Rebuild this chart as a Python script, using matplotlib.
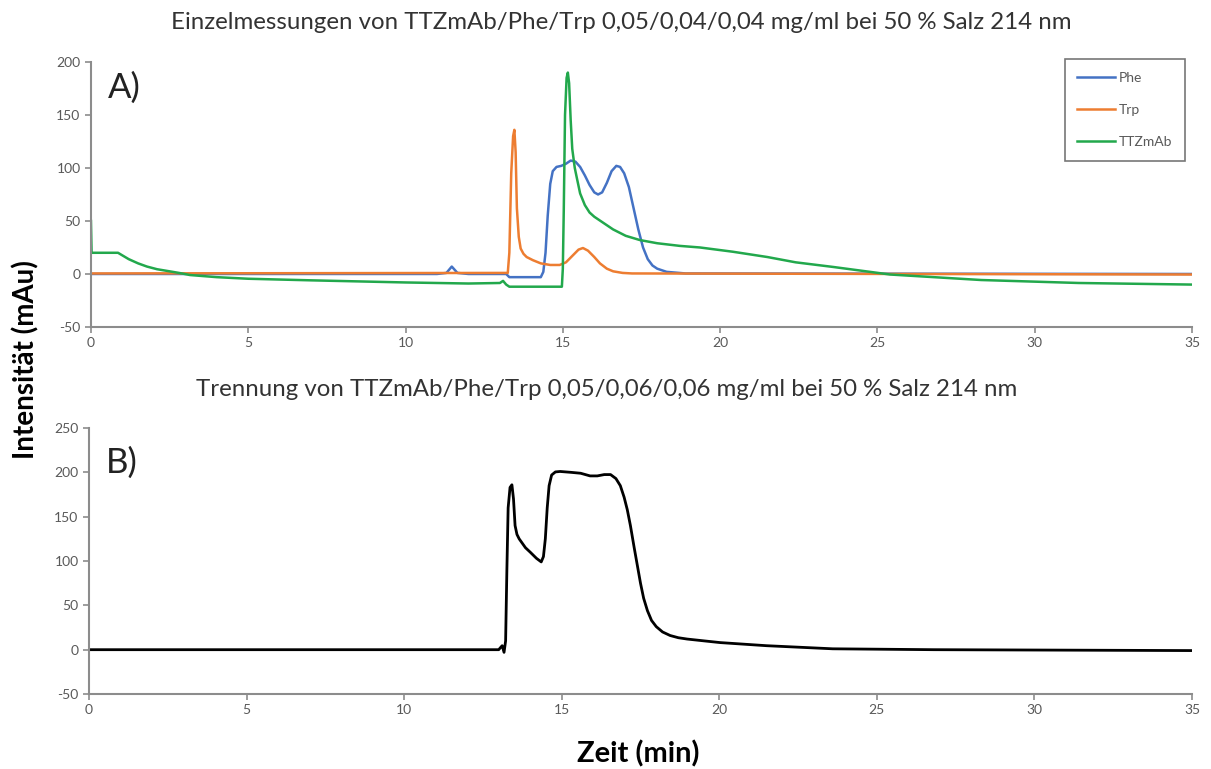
import matplotlib.pyplot as plt

plt.rcParams['font.family'] = ['Lato', 'DejaVu Sans']
plt.rcParams['axes.unicode_minus'] = False

# Einzelmessungen (A)
phe_t = [0, 11.0, 11.3, 11.47, 11.65, 12.0, 13.2, 13.3, 14.3, 14.38, 14.45, 14.52, 14.6,
         14.68, 14.8, 14.95, 15.1, 15.25, 15.4, 15.55, 15.7, 15.85, 16.0, 16.12, 16.25, 16.4,
         16.55, 16.7, 16.82, 16.95, 17.1, 17.25, 17.4, 17.55, 17.7, 17.85, 18.0, 18.3, 18.9, 35]
phe_y = [0, 0, 1, 7, 1, 0, 0, -3, -3, 2, 20, 55, 85,
         97, 101, 102, 104, 107, 106, 101, 93, 84, 77, 75, 77, 86,
         97, 102, 101, 95, 82, 62, 42, 25, 14, 8, 5, 2, 0.5, 0]

trp_t = [0, 13.25, 13.3, 13.36, 13.42, 13.46, 13.5, 13.54, 13.6, 13.66, 13.75, 13.85, 14.05,
         14.3, 14.6, 14.9, 15.1, 15.3, 15.5, 15.64, 15.8, 16.0, 16.18, 16.4, 16.6, 16.9, 17.2, 35]
trp_y = [0.5, 1, 20, 95, 130, 136, 115, 62, 35, 24, 19, 16, 13,
         10, 8.5, 8.5, 11, 17, 23, 24.5, 22, 16, 10, 5, 2.5, 1, 0.5, -0.5]

ttz_t = [0, 0.02, 0.3, 0.86, 1.2, 1.5, 1.78, 2.1, 2.4, 2.8, 3.15, 4, 5, 7, 10, 12, 13.0, 13.1,
         13.2, 13.3, 14.97, 15.0, 15.03, 15.07, 15.12, 15.16, 15.2, 15.25, 15.3, 15.38, 15.45,
         15.55, 15.7, 15.85, 16.0, 16.3, 16.6, 17.0, 17.45, 18.0, 18.72, 19.36, 20.4, 21.5,
         22.4, 23.6, 25.4, 28.3, 31.4, 35]
ttz_y = [50, 20, 20, 20, 14, 10, 7, 4.5, 3, 1, -1, -3, -4.5, -6, -8, -9, -8.5, -6.5,
         -10, -12, -12, 5, 60, 150, 185, 190, 180, 145, 118, 100, 90,
         76, 65, 58, 54, 48, 42, 36, 32, 29, 26.5, 25, 21, 16,
         11, 6.6, -0.5, -5.7, -8.5, -10]

# Trennung (B)
mix_t = [0, 13.0, 13.11, 13.17, 13.22, 13.26, 13.3, 13.36, 13.42, 13.47, 13.52, 13.58, 13.65,
         13.85, 14.0, 14.2, 14.35, 14.42, 14.48, 14.54, 14.6, 14.68, 14.8, 14.95, 15.3, 15.6,
         15.9, 16.13, 16.35, 16.55, 16.72, 16.86, 16.98, 17.08, 17.18, 17.3, 17.4, 17.5, 17.6,
         17.72, 17.85, 18.0, 18.2, 18.44, 18.7, 18.98, 19.5, 20.03, 21.5, 23.6, 26.8, 35]
mix_y = [0, 0, 4.5, -3, 10, 90, 160, 183, 186, 170, 140, 130, 125,
         115, 110, 103, 99, 105, 125, 160, 185, 197, 200.5, 201, 200, 199,
         196, 196, 197.5, 197.5, 193, 185, 172, 158, 140, 115, 95, 75, 58,
         44, 33, 26, 20, 16, 13.5, 12, 10, 8, 4.5, 1, 0, -1]

xticks = [0, 5, 10, 15, 20, 25, 30, 35]
axis_grey = '#8c8c8c'
text_grey = '#595959'

fig = plt.figure(figsize=(12.11, 7.69), dpi=100)
ax_a = fig.add_axes([0.0751, 0.5748, 0.9092, 0.3446])
ax_b = fig.add_axes([0.0735, 0.0975, 0.9108, 0.3459])


def style_axis(ax, ylim, yticks):
    ax.set_xlim(0, 35)
    ax.set_ylim(*ylim)
    ax.set_xticks(xticks)
    ax.set_yticks(yticks)
    for s in ['top', 'right']:
        ax.spines[s].set_visible(False)
    for s in ['left', 'bottom']:
        ax.spines[s].set_color(axis_grey)
        ax.spines[s].set_linewidth(1.5)
    ax.tick_params(direction='out', length=4, width=1.2, color=axis_grey,
                   labelcolor=text_grey, labelsize=10)


ax_a.plot(phe_t, phe_y, color='#4472c4', lw=1.8, label='Phe')
ax_a.plot(trp_t, trp_y, color='#ed7d31', lw=1.8, label='Trp')
ax_a.plot(ttz_t, ttz_y, color='#22a84c', lw=1.8, label='TTZmAb')
style_axis(ax_a, (-50, 200), [-50, 0, 50, 100, 150, 200])
ax_a.text(0.015, 0.965, 'A)', transform=ax_a.transAxes, fontsize=25, va='top', color='#222222')
leg = ax_a.legend(loc='upper right', bbox_to_anchor=(0.9935, 1.01), fontsize=10,
                  labelspacing=1.45, handlelength=2.7, handletextpad=0.3,
                  borderpad=0.9, borderaxespad=0, fancybox=False, labelcolor=text_grey)
leg.get_frame().set_edgecolor('#555555')
leg.get_frame().set_linewidth(1.2)

ax_b.plot(mix_t, mix_y, color='black', lw=2)
style_axis(ax_b, (-50, 250), [-50, 0, 50, 100, 150, 200, 250])
ax_b.text(0.015, 0.93, 'B)', transform=ax_b.transAxes, fontsize=25, va='top', color='#222222')

fig.text(0.513, 0.971, 'Einzelmessungen von TTZmAb/Phe/Trp 0,05/0,04/0,04 mg/ml bei 50 % Salz 214 nm',
         ha='center', va='center', fontsize=17.3, color='#333333')
fig.text(0.501, 0.493, 'Trennung von TTZmAb/Phe/Trp 0,05/0,06/0,06 mg/ml bei 50 % Salz 214 nm',
         ha='center', va='center', fontsize=17.3, color='#333333')
fig.text(0.021, 0.532, 'Intensität (mAu)', rotation=90, ha='center', va='center',
         fontsize=20, fontweight='bold', color='black')
fig.text(0.527, 0.02, 'Zeit (min)', ha='center', va='center',
         fontsize=21, fontweight='bold', color='black')

fig.savefig('out.png', dpi=100)
